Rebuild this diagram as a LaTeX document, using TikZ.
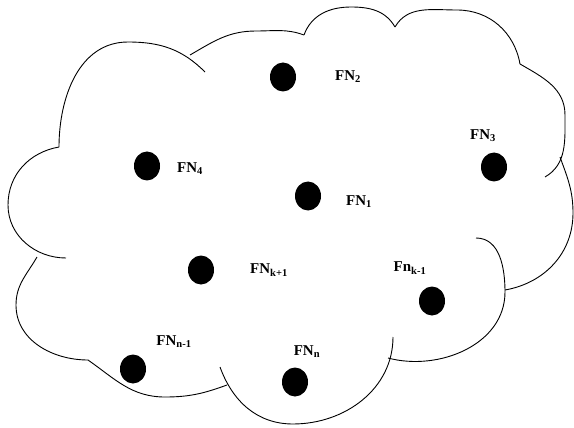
\documentclass[tikz,border=0pt]{standalone}
\usepackage{fontspec}
\setmainfont{Liberation Serif}
\usetikzlibrary{shapes.geometric}

\begin{document}
\begin{tikzpicture}[x=1pt,y=-1pt,
  edge/.style={line width=0.9pt},
  fn/.style={ellipse,fill=black,minimum width=26pt,minimum height=29pt,inner sep=0pt},
  lbl/.style={font=\fontsize{15}{17}\selectfont\bfseries,inner sep=0pt}]
  \useasboundingbox (0,0) rectangle (574,428);
  \draw[edge] (205,72) to[out=135,in=0] (128,42) to[out=180,in=90] (59,147);
  \draw[edge] (59,147) to[out=190,in=90] (8,205) to[out=-90,in=180] (66,258);
  \draw[edge] (37,257) to[out=-120,in=90] (16,305) to[out=-90,in=180] (88,360);
  \draw[edge] (88,360) to[out=-35,in=180] (165,397) to[out=0,in=200] (227,385);
  \draw[edge] (220,367) to[out=-70,in=180] (293,424) to[out=0,in=-90] (393,337);
  \draw[edge] (388,358) to[out=-15,in=-90] (505,292) to[out=90,in=0] (476,238);
  \draw[edge] (505,290) to[out=10,in=-90] (573,213) to[out=90,in=-70] (560,157);
  \draw[edge] (545,177) to[out=30,in=-90] (565,115) to[out=90,in=-30] (520,64);
  \draw[edge] (520,64) to[out=100,in=0] (457,10) to[out=180,in=60] (395,27);
  \draw[edge] (395,27) to[out=120,in=0] (351,7) to[out=180,in=70] (304,35);
  \draw[edge] (304,35) to[out=160,in=0] (256,31) to[out=180,in=30] (190,55);
  \node[fn] (n2) at (283,77) {};
  \node[fn] (n4) at (147,166) {};
  \node[fn] (n1) at (308,196) {};
  \node[fn] (n3) at (494,167) {};
  \node[fn] (nk1) at (201,270) {};
  \node[fn] (nk2) at (432,301) {};
  \node[fn] (nn1) at (133,369) {};
  \node[fn] (nn) at (295,382) {};
  \node[lbl] (l2) at (348,77) {FN\textsubscript{2}};
  \node[lbl] (l3) at (483,136) {FN\textsubscript{3}};
  \node[lbl] (l4) at (190,169) {FN\textsubscript{4}};
  \node[lbl] (l1) at (359,202) {FN\textsubscript{1}};
  \node[lbl] (lk1) at (269,270) {FN\textsubscript{k+1}};
  \node[lbl] (lk2) at (410,268) {Fn\textsubscript{k-1}};
  \node[lbl] (ln1) at (174,342) {FN\textsubscript{n-1}};
  \node[lbl] (ln) at (307,352) {FN\textsubscript{n}};
\end{tikzpicture}
\end{document}
